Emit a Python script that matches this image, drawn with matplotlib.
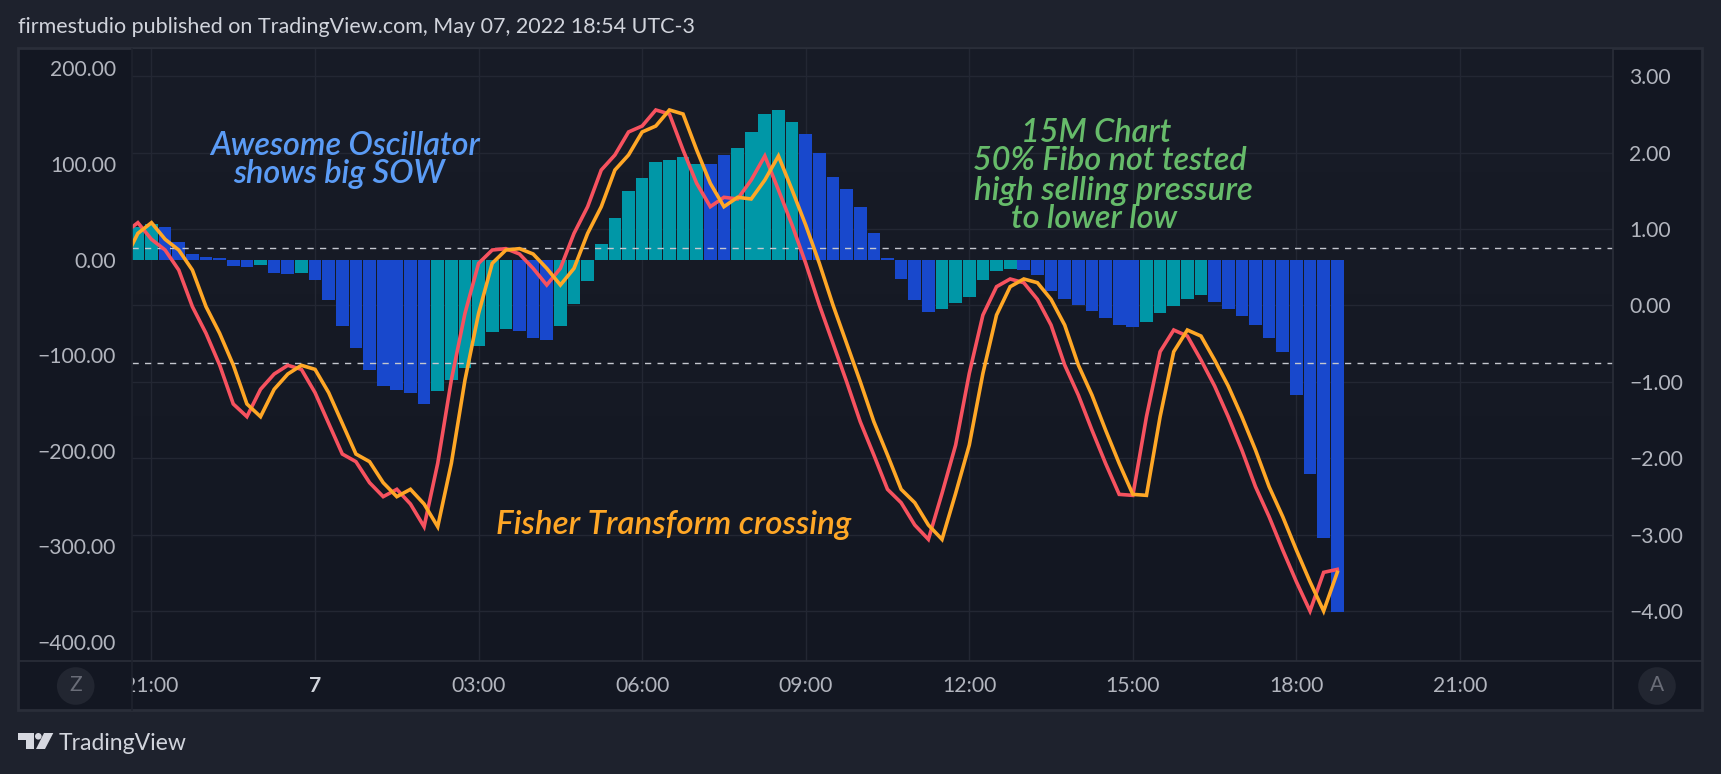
import numpy as np
import matplotlib
matplotlib.use("Agg")
import matplotlib.pyplot as plt
from matplotlib.patches import Circle, Polygon, Rectangle
from matplotlib.transforms import Bbox

# ---------- data ----------
bar_index = list(range(-1, 88))
ao_values = [34, 37, 34, 18, 5.6, 2.4, 1.4, -7, -8, -6, -14, -15, -14, -21.6, -42.5, -70, -93, -116,
             -132.5, -136, -140, -151, -138, -126, -113, -90.6, -76, -73, -75, -82, -84, -70, -47, -22.7,
             16, 43, 71.5, 85, 102, 104, 107, 99.7, 99.7, 109, 116.5, 133, 152, 156, 143.6, 131, 111, 86,
             73.6, 54.7, 27.5, 1.4, -20.6, -42.5, -55, -52, -45.7, -39, -21.6, -12, -10, -11, -16, -33,
             -41.5, -48, -54, -61, -68.7, -70.8, -65.6, -56, -49, -41.5, -37, -44.6, -52, -59, -68.7,
             -82, -97, -141.4, -224, -291, -369]
ao_colors = list("TTBBBBBBBTBBTBBBBBBBBBTTTTTTBBBTTTTTTTTTTTBBTTTTTBBBBBBBBBBTTTTTTBBBBBBBBBTTTTTBBBBBBBBBB")

fisher_index = list(range(-2, 88))
fisher = [.942, 1.082, .864, .724, .462, -.017, -.366, -.781, -1.291, -1.457, -1.099, -.899, -.785, -.838,
          -1.143, -1.545, -1.946, -2.046, -2.321, -2.504, -2.408, -2.600, -2.897, -2.068, -.977, -.105,
          .550, .724, .742, .672, .484, .266, .484, .942, 1.291, 1.771, 1.968, 2.269, 2.347, 2.557, 2.504,
          2.033, 1.597, 1.291, 1.414, 1.392, 1.640, 1.955, 1.510, 1.051, .550, .004, -.497, -.999, -1.523,
          -1.959, -2.408, -2.583, -2.875, -3.063, -2.461, -1.828, -.891, -.127, .244, .345, .296, .078,
          -.258, -.781, -1.174, -1.632, -2.069, -2.474, -2.487, -1.458, -.607, -.323, -.402, -.716, -1.056,
          -1.458, -1.894, -2.374, -2.767, -3.203, -3.618, -4.001, -3.495, -3.456]
trigger = [.585, .942, 1.082, .864, .724, .462, -.017, -.366, -.781, -1.291, -1.457, -1.099, -.899, -.785,
           -.838, -1.143, -1.545, -1.946, -2.046, -2.321, -2.504, -2.408, -2.600, -2.897, -2.068, -.977,
           -.105, .550, .724, .742, .672, .484, .266, .484, .942, 1.291, 1.771, 1.968, 2.269, 2.347, 2.557,
           2.504, 2.033, 1.597, 1.291, 1.414, 1.392, 1.640, 1.955, 1.510, 1.051, .550, .004, -.497, -.999,
           -1.523, -1.959, -2.408, -2.583, -2.875, -3.063, -2.461, -1.828, -.891, -.127, .244, .345, .296,
           .078, -.258, -.781, -1.174, -1.632, -2.069, -2.474, -2.487, -1.458, -.607, -.323, -.402, -.716,
           -1.056, -1.458, -1.894, -2.374, -2.767, -3.203, -3.618, -4.001, -3.495]
band_levels = [0.75, -0.75]
left_ticks = [200, 100, 0, -100, -200, -300, -400]
right_ticks = [3, 2, 1, 0, -1, -2, -3, -4]
time_ticks = [0, 12, 24, 36, 48, 60, 72, 84, 96]
time_labels = ["21:00", "7", "03:00", "06:00", "09:00", "12:00", "15:00", "18:00", "21:00"]
title = "firmestudio published on TradingView.com, May 07, 2022 18:54 UTC-3"

# ---------- style ----------
W, H = 1721, 774
BG, PANE, BORDER, GRID = "#1E222D", "#131722", "#2A2E39", "#232733"
TEAL, BLUE, RED, ORANGE = "#0097A7", "#1848CC", "#F7525F", "#FFA726"
TICK = "#B2B5BE"
LABEL_SIZE = 15.2
plt.rcParams["font.family"] = ["Lato", "DejaVu Sans"]


def fx(px):
    return px / W


def fy(py):
    return 1 - py / H


fig = plt.figure(figsize=(W / 100, H / 100), dpi=100, facecolor=BG)

# pane background with border
fig.add_artist(Rectangle((fx(18), fy(710)), fx(1684), 662 / H, transform=fig.transFigure,
                         facecolor=PANE, edgecolor=BORDER, lw=2.0, zorder=-5))

L, R, T, B = 132, 1612.6, 49, 661
RIGHT_LIMS = (-4.655, 3.355)
XLIM = (-1.43, 107.2)

# layer 1: background, horizontal grid and right-hand scale
axr = fig.add_axes([fx(L), fy(B), (R - L) / W, (B - T) / H], zorder=1)
axr.patch.set_visible(False)
grad = np.linspace(0, 1, 256).reshape(-1, 1)
c0, c1 = np.array([0x18, 0x1C, 0x27]) / 255, np.array([0x13, 0x17, 0x22]) / 255
axr.imshow(c0 + (c1 - c0) * grad[..., None], extent=(0, 1, 0, 1), transform=axr.transAxes,
           aspect="auto", zorder=-3)
axr.set_xlim(*XLIM)
axr.set_ylim(*RIGHT_LIMS)
axr.yaxis.tick_right()
axr.set_yticks(right_ticks)
axr.set_yticklabels([f"{v:.2f}".replace("-", "\u2212") for v in right_ticks])
axr.tick_params(axis="y", length=0, pad=12, labelsize=LABEL_SIZE, labelcolor=TICK)
axr.set_xticks(time_ticks)
axr.set_xticklabels(time_labels)
axr.tick_params(axis="x", length=0, pad=11, labelsize=LABEL_SIZE, labelcolor=TICK)
clip = Bbox([[L, 0], [R, H]])
for lab in axr.get_xticklabels():
    lab.set_clip_box(clip)
    lab.set_clip_on(True)
axr.get_xticklabels()[1].set_color("#D1D4DC")
axr.get_xticklabels()[1].set_fontweight("bold")
axr.grid(True, color=GRID, lw=1.0)
axr.set_axisbelow(True)
for s in axr.spines.values():
    s.set_visible(False)

# layer 2: awesome oscillator bars on the left-hand scale
ax = fig.add_axes(axr.get_position(), zorder=2, sharex=axr)
ax.patch.set_visible(False)
ax.set_ylim(-420, 220.2)
ax.set_yticks(left_ticks)
ax.set_yticklabels([f"{v:.2f}".replace("-", "\u2212") for v in left_ticks])
ax.tick_params(axis="y", length=0, pad=11.5, labelsize=LABEL_SIZE, labelcolor=TICK)
ax.tick_params(axis="x", length=0, labelbottom=False)
for s in ax.spines.values():
    s.set_visible(False)
color_map = {"T": TEAL, "B": BLUE}
ax.bar(bar_index, ao_values, width=0.93, color=[color_map[c] for c in ao_colors], zorder=2, linewidth=0)

# layer 3: fisher transform lines on the right-hand scale
axf = fig.add_axes(axr.get_position(), zorder=3, sharex=axr)
axf.patch.set_visible(False)
axf.set_ylim(*RIGHT_LIMS)
axf.axis("off")
for lv in band_levels:
    axf.axhline(lv, color="#C4C7CF", lw=1.0, dashes=(4.5, 4.5), zorder=3)
axf.plot(fisher_index, fisher, color=RED, lw=2.6, zorder=4, solid_joinstyle="miter")
axf.plot(fisher_index, trigger, color=ORANGE, lw=2.6, zorder=5, solid_joinstyle="miter")

# separators
for x0, y0, x1, y1, col in [(18, 661, 1702, 661, BORDER), (1612.6, 49, 1612.6, 710, BORDER),
                            (132, 49, 132, 710, "#1F232E")]:
    fig.add_artist(plt.Line2D([fx(x0), fx(x1)], [fy(y0), fy(y1)], color=col, lw=1.2,
                              transform=fig.transFigure, zorder=6))

# corner buttons (circles in pixel space)
for cx, ch in [(75.7, "Z"), (1657, "A")]:
    fig.add_artist(Circle((cx, H - 686), 18.8, transform=None, facecolor="#222631", edgecolor="none", zorder=6))
    fig.text(fx(cx), fy(685), ch, color="#6A6D78", fontsize=15, ha="center", va="center", zorder=7)

# header / footer
fig.text(fx(18), fy(27), title, color="#D1D4DC", fontsize=15.5, ha="left", va="center")
fig.text(fx(59), fy(743), "TradingView", color="#D1D4DC", fontsize=16.6, ha="left", va="center")
LOGO = [[(18, 733), (34, 733), (34, 749), (25.7, 749), (25.7, 740), (18, 740)],
        [(44, 733), (53.3, 733), (45, 749), (36, 749)]]
for pts in LOGO:
    fig.add_artist(Polygon([(fx(a), fy(b)) for a, b in pts], closed=True, transform=fig.transFigure,
                           facecolor="#D6D8E0", edgecolor="none"))
fig.add_artist(Circle((38.3, H - 736.3), 3.3, transform=None, facecolor="#D6D8E0", edgecolor="none"))

# annotations
BLUE_T, GREEN_T = "#5B9CF6", "#66BB6A"
notes = [("Awesome Oscillator", 345.5, 146, BLUE_T, 23.3), ("shows big SOW", 339, 174, BLUE_T, 23.3),
         ("15M Chart", 1096.6, 132.5, GREEN_T, 23.3), ("50% Fibo not tested", 1110.3, 161.5, GREEN_T, 23.3),
         ("high selling pressure", 1113, 190.5, GREEN_T, 23.9), ("to lower low", 1094, 219.5, GREEN_T, 23.3),
         ("Fisher Transform crossing", 673.2, 525, ORANGE, 23.9)]
for txt, x, y, col, size in notes:
    fig.text(fx(x), fy(y), txt, color=col, fontsize=size, style="italic", fontweight="semibold",
             ha="center", va="center", zorder=8)

fig.savefig("out.png", dpi=100, facecolor=BG)
